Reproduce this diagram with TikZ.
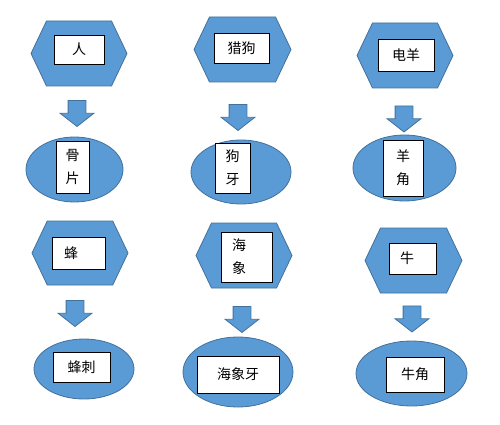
\documentclass[tikz,border=0pt]{standalone}
\usepackage{fontspec}
\newfontfamily\cjk{Noto Sans CJK SC}
\usetikzlibrary{shapes.geometric, shapes.symbols, shapes.arrows, positioning}
\definecolor{shapeblue}{HTML}{5B9BD5}
\definecolor{edgeblue}{HTML}{41719C}
\tikzset{
  hexa/.style={
    signal, signal to=west and east, signal pointer angle=129,
    minimum width=96pt, minimum height=65pt, inner sep=0pt,
    draw=edgeblue, fill=shapeblue, line width=0.8pt
  },
  oval/.style={
    ellipse, inner sep=0pt,
    draw=edgeblue, fill=shapeblue, line width=0.8pt
  },
  tag/.style={
    rectangle, inner sep=0pt, align=center,
    draw=black, fill=white, line width=0.7pt,
    font=\cjk\fontsize{14}{23}\selectfont
  },
  downarrow/.style={
    single arrow, rotate=-90, minimum height=26pt,
    inner xsep=0pt, inner ysep=8.5pt,
    single arrow head extend=8pt, single arrow tip angle=104,
    draw=edgeblue, fill=shapeblue, line width=0.8pt
  }
}

\begin{document}
\begin{tikzpicture}[x=1pt, y=-1pt]
\useasboundingbox (0,0) rectangle (500,425);
% first row
\node[hexa] (ren) at (79,53.5) {};
\node[tag, minimum width=50pt, minimum height=29pt] (renbox) at (79,49.5) {人};
\node[downarrow] (arrren) at (77,110) {};
\node[oval, minimum width=97pt, minimum height=65pt] (bone) at (74.5,169.5) {};
\node[tag, minimum width=33pt, minimum height=52pt] (bonebox) at (72.5,167) {骨\\片};

\node[hexa, minimum width=97pt] (dog) at (242.5,49.5) {};
\node[tag, minimum width=55pt, minimum height=30pt] (dogbox) at (241.5,48) {猎狗};
\node[downarrow] (arrdog) at (238,114) {};
\node[oval, minimum width=100pt, minimum height=64pt] (tooth) at (241,172) {};
\node[tag, minimum width=35pt, minimum height=50pt] (toothbox) at (232.5,168) {狗\\牙};

\node[hexa] (sheep) at (405,55.5) {};
\node[tag, minimum width=56pt, minimum height=32pt] (sheepbox) at (406,55) {电羊};
\node[downarrow] (arrsheep) at (404,115.5) {};
\node[oval, minimum width=103pt, minimum height=66pt] (horn) at (404.5,168) {};
\node[tag, minimum width=40pt, minimum height=56pt] (hornbox) at (403,168) {羊\\角};

% second row
\node[hexa, minimum height=64pt] (bee) at (80,253) {};
\node[tag, minimum width=53pt, minimum height=32pt] (beebox) at (78.5,253) {蜂\hspace*{15pt}};
\node[downarrow] (arrbee) at (75,310) {};
\node[oval, minimum width=100pt, minimum height=60pt] (sting) at (84,369) {};
\node[tag, minimum width=57pt, minimum height=30pt] (stingbox) at (81.5,367) {蜂刺};

\node[hexa] (walrus) at (244,255.5) {};
\node[tag, minimum width=51pt, minimum height=50pt] (walrusbox) at (246.5,257) {海\hspace*{15pt}\\象\hspace*{15pt}};
\node[downarrow] (arrwalrus) at (242,316) {};
\node[oval, minimum width=110pt, minimum height=70pt] (tusk) at (238,372) {};
\node[tag, minimum width=82pt, minimum height=37pt] (tuskbox) at (238,374.5) {海象牙};

\node[hexa, minimum width=97pt] (ox) at (413.5,260.5) {};
\node[tag, minimum width=47pt, minimum height=31pt] (oxbox) at (412.5,258.5) {牛\hspace*{11pt}};
\node[downarrow] (arrox) at (412,315.5) {};
\node[oval, minimum width=111pt, minimum height=65pt] (oxhorn) at (411.5,373.5) {};
\node[tag, minimum width=58pt, minimum height=35pt] (oxhornbox) at (415,374.5) {牛角};
\end{tikzpicture}
\end{document}
